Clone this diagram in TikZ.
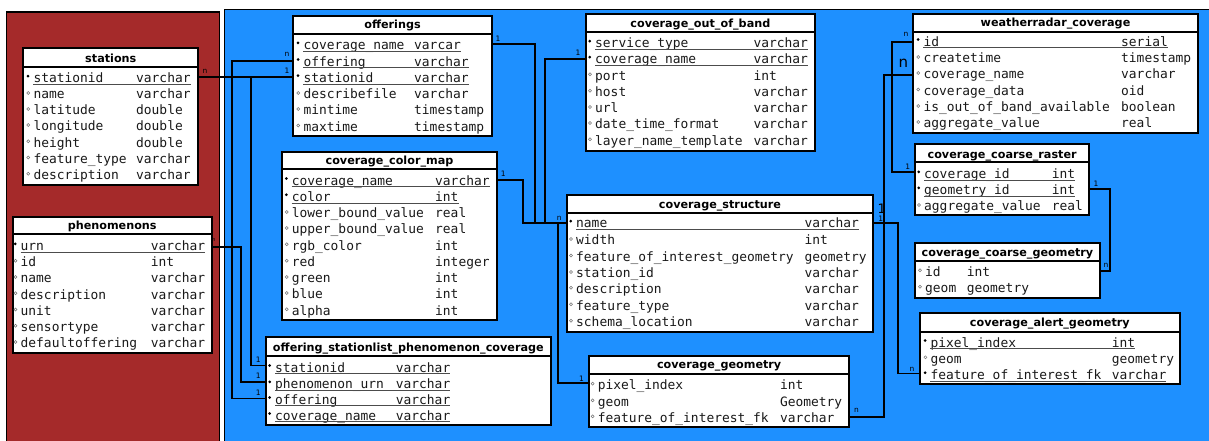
\documentclass[tikz,border=0pt]{standalone}
\usepackage{fontspec}
\setmainfont{DejaVu Sans}
\setmonofont{DejaVu Sans Mono}
\usetikzlibrary{fit,calc}
\definecolor{bgred}{RGB}{165,42,42}
\definecolor{bgblue}{RGB}{30,144,255}
\newcount\rowno
\newcommand\cols[2]{\def\nx{#1}\def\tx{#2}}
\newcommand\mkrow[4]{%
  \global\advance\rowno by 1
  \node[rowtext] (rn\the\rowno) at (\nx,#2) {#3};
  \node[rowtext] (rt\the\rowno) at (\tx,#2) {#4};
  \if#1k
    \node[keymark] (rm\the\rowno) at (\nx-5.3,#2-3.8) {};
    \draw[uline] ([yshift=-1.8pt]rn\the\rowno.base west) -- ([yshift=-1.8pt]rt\the\rowno.base east);
  \else
    \node[attrmark] (rm\the\rowno) at (\nx-5,#2-3) {};
  \fi}
\newcommand\dbtable[8]{%
  \node[tbox, fit={(#2,#3) (#4,#6)}] (#1) {};
  \draw[hsep] (#2,#5) -- (#4,#5);
  \node[titletext] (#1-title) at ({(#2+#4)/2},#7) {#8};}
\tikzset{
  rowtext/.style={anchor=mid west, inner sep=0pt, font=\ttfamily\fontsize{12.9}{14}\selectfont, text=black!90},
  titletext/.style={anchor=mid, inner sep=0pt, font=\bfseries\fontsize{11.2}{13}\selectfont},
  keymark/.style={circle, fill=black, inner sep=0pt, minimum size=3pt},
  attrmark/.style={circle, draw=black!55, line width=0.5pt, inner sep=0pt, minimum size=3pt},
  uline/.style={line width=1pt, black!70},
  tbox/.style={draw=black, line width=1.8pt, fill=white, inner sep=0pt},
  hsep/.style={line width=1.8pt},
  conn/.style={line width=1.9pt},
  card/.style={font=\fontsize{7.5}{8}\selectfont, inner sep=0pt, text=black},
  bigcard/.style={font=\fontsize{15}{16}\selectfont, inner sep=0pt, text=black},
}
\begin{document}
\begin{tikzpicture}[x=1pt,y=-1pt]
\useasboundingbox (0,0) rectangle (1209,441);
\filldraw[fill=bgred,draw=black,line width=1.8pt] (6.5,12) rectangle (219.5,470);
\filldraw[fill=bgblue,draw=black,line width=1.8pt] (224.5,9.5) rectangle (1230,470);

% ---------- tables ----------
\dbtable{stations}{23.3}{48.3}{198.3}{66.7}{185}{59.5}{stations}
\cols{33.3}{136}
\mkrow{k}{80}{stationid}{varchar}
\mkrow{a}{96}{name}{varchar}
\mkrow{a}{112}{latitude}{double}
\mkrow{a}{128}{longitude}{double}
\mkrow{a}{144.3}{height}{double}
\mkrow{a}{160.5}{feature\_type}{varchar}
\mkrow{a}{176.7}{description}{varchar}

\dbtable{phenomenons}{12.7}{216.7}{211.7}{234.3}{353.3}{227}{phenomenons}
\cols{20.5}{150.7}
\mkrow{k}{247.7}{urn}{varchar}
\mkrow{a}{263.7}{id}{int}
\mkrow{a}{280}{name}{varchar}
\mkrow{a}{296.3}{description}{varchar}
\mkrow{a}{312.5}{unit}{varchar}
\mkrow{a}{328.7}{sensortype}{varchar}
\mkrow{a}{345}{defaultoffering}{varchar}

\dbtable{offerings}{293.3}{15.7}{491.7}{34}{136}{26}{offerings}
\cols{303.3}{414}
\mkrow{k}{46.7}{coverage\_name}{varcar}
\mkrow{k}{63.3}{offering}{varchar}
\mkrow{k}{79.5}{stationid}{varchar}
\mkrow{a}{96}{describefile}{varchar}
\mkrow{a}{112}{mintime}{timestamp}
\mkrow{a}{128.5}{maxtime}{timestamp}

\dbtable{colormap}{282.3}{151.7}{496.7}{169.3}{320}{162}{coverage\_color\_map}
\cols{291.7}{435}
\mkrow{k}{182.3}{coverage\_name}{varchar}
\mkrow{k}{198.5}{color}{int}
\mkrow{a}{215}{lower\_bound\_value}{real}
\mkrow{a}{231}{upper\_bound\_value}{real}
\mkrow{a}{247.3}{rgb\_color}{int}
\mkrow{a}{263.7}{red}{integer}
\mkrow{a}{280}{green}{int}
\mkrow{a}{296}{blue}{int}
\mkrow{a}{312.3}{alpha}{int}

\dbtable{ospc}{266}{337.3}{550.7}{356}{425.3}{348.5}{offering\_stationlist\_phenomenon\_coverage}
\cols{275}{395.7}
\mkrow{k}{369.3}{stationid}{varchar}
\mkrow{k}{385.7}{phenomenon\_urn}{varchar}
\mkrow{k}{401.3}{offering}{varchar}
\mkrow{k}{417.3}{coverage\_name}{varchar}

\dbtable{oob}{585.7}{14}{815}{32.3}{150.7}{24.5}{coverage\_out\_of\_band}
\cols{595}{753.3}
\mkrow{k}{45}{service\_type}{varchar}
\mkrow{k}{61}{coverage\_name}{varchar}
\mkrow{a}{77.3}{port}{int}
\mkrow{a}{93.7}{host}{varchar}
\mkrow{a}{110}{url}{varchar}
\mkrow{a}{126}{date\_time\_format}{varchar}
\mkrow{a}{142.3}{layer\_name\_template}{varchar}

\dbtable{wradar}{913.3}{14}{1197.7}{31.7}{133.3}{23.5}{weatherradar\_coverage}
\cols{923.3}{1121}
\mkrow{k}{43.3}{id}{serial}
\mkrow{a}{60}{createtime}{timestamp}
\mkrow{a}{76}{coverage\_name}{varchar}
\mkrow{a}{92.5}{coverage\_data}{oid}
\mkrow{a}{109}{is\_out\_of\_band\_available}{boolean}
\mkrow{a}{125}{aggregate\_value}{real}

\dbtable{cstruct}{566.7}{195}{873.3}{213.3}{331.7}{206}{coverage\_structure}
\cols{576}{804.3}
\mkrow{k}{225}{name}{varchar}
\mkrow{a}{242}{width}{int}
\mkrow{a}{258.5}{feature\_of\_interest\_geometry}{geometry}
\mkrow{a}{275}{station\_id}{varchar}
\mkrow{a}{290.7}{description}{varchar}
\mkrow{a}{307.3}{feature\_type}{varchar}
\mkrow{a}{323.7}{schema\_location}{varchar}

\dbtable{craster}{915}{144.3}{1089.3}{162.3}{215}{155.5}{coverage\_coarse\_raster}
\cols{924}{1051.7}
\mkrow{k}{175.7}{coverage\_id}{int}
\mkrow{k}{191.7}{geometry\_id}{int}
\mkrow{a}{208}{aggregate\_value}{real}

\dbtable{ccgeom}{915}{242.7}{1100}{261}{297.7}{253.5}{coverage\_coarse\_geometry}
\cols{925}{966.7}
\mkrow{a}{273.3}{id}{int}
\mkrow{a}{289.7}{geom}{geometry}

\dbtable{calert}{919.7}{313.3}{1180}{331.7}{384.3}{324}{coverage\_alert\_geometry}
\cols{930.4}{1111.7}
\mkrow{k}{344.3}{pixel\_index}{int}
\mkrow{a}{360.3}{geom}{geometry}
\mkrow{k}{376.5}{feature\_of\_interest\_fk}{varchar}

\dbtable{cgeom}{589}{356}{849.3}{374}{427.3}{366}{coverage\_geometry}
\cols{597.6}{779.8}
\mkrow{a}{386.7}{pixel\_index}{int}
\mkrow{a}{403.3}{geom}{Geometry}
\mkrow{a}{419.3}{feature\_of\_interest\_fk}{varchar}

% ---------- connector end points ----------
\coordinate (st-sid) at (stations.east |- 0,77);
\coordinate (of-sid) at (offerings.west |- 0,77);
\coordinate (of-off) at (offerings.west |- 0,61);
\coordinate (of-cov) at (offerings.east |- 0,44);
\coordinate (os-sid) at (ospc.west |- 0,365.5);
\coordinate (os-urn) at (ospc.west |- 0,382);
\coordinate (os-off) at (ospc.west |- 0,398.5);
\coordinate (ph-urn) at (phenomenons.east |- 0,246.7);
\coordinate (cs-name) at (cstruct.west |- 0,222.7);
\coordinate (cs-r) at (cstruct.east |- 0,222.7);
\coordinate (ob-cov) at (oob.west |- 0,59);
\coordinate (cm-cov) at (colormap.east |- 0,180);
\coordinate (cg-pix) at (cgeom.west |- 0,383.3);
\coordinate (cg-fk) at (cgeom.east |- 0,416.7);
\coordinate (wr-id) at (wradar.west |- 0,41.7);
\coordinate (wr-cov) at (wradar.west |- 0,75);
\coordinate (cr-cid) at (craster.west |- 0,172);
\coordinate (cr-gid) at (craster.east |- 0,189);
\coordinate (cc-id) at (ccgeom.east |- 0,271);
\coordinate (ag-fk) at (calert.west |- 0,373.5);

% ---------- connectors ----------
\draw[conn] (st-sid) -- (of-sid);
\draw[conn] (os-sid) -- ++(-14.3,0) |- (st-sid);
\draw[conn] (os-off) -- ++(-32.7,0) |- (of-off);
\draw[conn] (os-urn) -- ++(-24.3,0) |- (ph-urn);
\draw[conn] (cs-name) -- ++(-31,0) |- (of-cov);
\draw[conn] (cs-name) -- ++(-20.7,0) |- (ob-cov);
\draw[conn] (cs-name) -- ++(-42.4,0) |- (cm-cov);
\draw[conn] (cs-name) -- ++(-7.7,0) |- (cg-pix);
\draw[conn] (wr-id) -- ++(-20,0) |- (cr-cid);
\draw[conn] (wr-cov) -- ++(-28.3,0) |- (cg-fk);
\draw[conn] (cs-r) -- ++(23.4,0) |- (ag-fk);
\draw[conn] (cr-gid) -- ++(20,0) |- (cc-id);

% ---------- cardinalities ----------
\node[card] (l1) at (205,71) {n};
\node[card] (l2) at (287,71) {1};
\node[card] (l3) at (287,54.3) {n};
\node[card] (l4) at (258.3,359.5) {1};
\node[card] (l5) at (258.3,376) {1};
\node[card] (l6) at (258.3,392.5) {1};
\node[card] (l7) at (498,39) {1};
\node[card] (l8) at (578,53) {1};
\node[card] (l9) at (503.3,173.5) {1};
\node[card] (l10) at (559.3,218.3) {n};
\node[card] (l11) at (581.4,379) {1};
\node[card] (l12) at (906,34) {n};
\node[bigcard] (l13) at (903.3,63.3) {n};
\node[card] (l14) at (907.7,166.7) {1};
\node[card] (l15) at (856.6,410.7) {n};
\node[card] (l16) at (880.7,218.5) {1};
\node[bigcard, font=\fontsize{13}{14}\selectfont] (l17) at (881.7,209) {1};
\node[card] (l18) at (912,369) {n};
\node[card] (l19) at (1096,184) {1};
\node[card] (l20) at (1106,265.7) {n};
\node[card, font=\fontsize{5}{6}\selectfont] (l21) at (214,240.5) {n};
\end{tikzpicture}
\end{document}
